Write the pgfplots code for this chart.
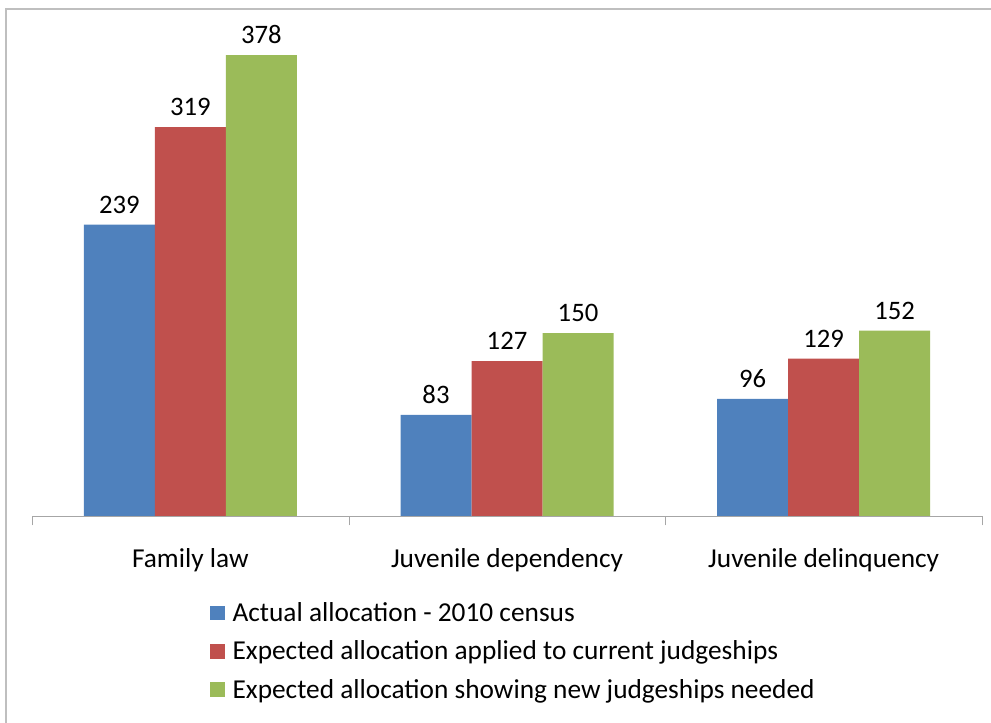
\documentclass[border=0pt]{standalone}
\usepackage{fontspec}
\setmainfont{Carlito}
\usepackage{pgfplots}
\pgfplotsset{compat=1.18}
\definecolor{cblue}{HTML}{4F81BD}
\definecolor{cred}{HTML}{C0504D}
\definecolor{cgreen}{HTML}{9BBB59}
\begin{document}
\begin{tikzpicture}
\path[use as bounding box] (0pt,0pt) rectangle (743.25pt,542.25pt);
\draw[gray!50,line width=2.2pt] (4.5pt,-5pt) -- (4.5pt,535.5pt) -- (750pt,535.5pt);
\begin{axis}[
  at={(24pt,155.25pt)}, anchor=south west,
  scale only axis, width=712.5pt, height=379.5pt,
  ybar=0pt, bar width=53.25pt,
  xmin=-0.5, xmax=2.5, ymin=0, ymax=415,
  axis y line=none,
  axis x line*=bottom,
  x axis line style={gray!70, -},
  xtick={0,1,2},
  xticklabels={Family law, Juvenile dependency, Juvenile delinquency},
  major tick length=0pt,
  extra x ticks={-0.5,0.5,1.5,2.5},
  extra x tick labels={},
  extra x tick style={major tick length=7pt, tick align=outside, tick style={gray!70}},
  xticklabel style={font=\fontsize{20.5}{24}\selectfont, yshift=-21pt},
  /pgf/number format/assume math mode=true,
  nodes near coords,
  every node near coord/.append style={font=\fontsize{20}{24}\selectfont, black, yshift=5pt},
  legend style={draw=none, at={(0.187,-0.16)}, anchor=north west, font=\fontsize{20.5}{24}\selectfont, row sep=9pt, column sep=4pt, legend cell align=left, inner xsep=0pt},
  legend image code/.code={\fill[#1] (0pt,-5.5pt) rectangle (11pt,5.5pt);},
]
\addplot[fill=cblue, draw=none] coordinates {(0,239) (1,83) (2,96)};
\addplot[fill=cred, draw=none] coordinates {(0,319) (1,127) (2,129)};
\addplot[fill=cgreen, draw=none] coordinates {(0,378) (1,150) (2,152)};
\legend{Actual allocation - 2010 census, Expected allocation applied to current judgeships, Expected allocation showing new judgeships needed}
\end{axis}
\end{tikzpicture}
\end{document}
